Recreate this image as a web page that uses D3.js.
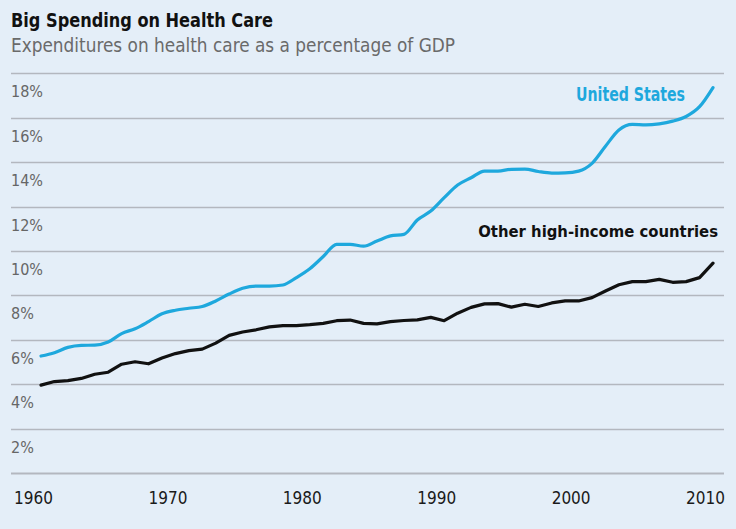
<!DOCTYPE html>
<html><head><meta charset="utf-8">
<script src="https://cdn.jsdelivr.net/npm/d3@7"></script>
<style>
html,body{margin:0;padding:0;background:#e4eef8;}
svg{display:block;}
text{font-family:"Liberation Sans Narrow","DejaVu Sans Condensed","Roboto",sans-serif;}
</style></head>
<body>
<script>
const years = d3.range(1960, 2011);
const usValues = [5.27,5.42,5.66,5.75,5.76,5.9,6.28,6.5,6.82,7.17,
  7.33,7.42,7.5,7.75,8.06,8.32,8.42,8.42,8.47,8.8,
  9.2,9.75,10.3,10.3,10.22,10.45,10.68,10.75,11.4,11.8,
  12.4,12.97,13.3,13.6,13.6,13.68,13.69,13.58,13.51,13.52,
  13.6,13.95,14.72,15.45,15.7,15.68,15.73,15.85,16.06,16.5,17.36];
const otherValues = [3.96,4.12,4.16,4.26,4.45,4.54,4.9,5.01,4.92,5.18,
  5.38,5.51,5.58,5.85,6.2,6.35,6.45,6.58,6.64,6.64,
  6.68,6.74,6.86,6.89,6.74,6.72,6.82,6.87,6.9,7.01,
  6.86,7.2,7.46,7.62,7.63,7.47,7.6,7.5,7.66,7.75,
  7.75,7.9,8.2,8.48,8.62,8.62,8.72,8.59,8.62,8.8,9.45];
const yTicks = [0,2,4,6,8,10,12,14,16,18];
const yTickLabels = ["","2%","4%","6%","8%","10%","12%","14%","16%","18%"];
const xTicks = [1960,1970,1980,1990,2000,2010];
const seriesNames = ["United States","Other high-income countries"];
const titleText = "Big Spending on Health Care";
const subtitleText = "Expenditures on health care as a percentage of GDP";

const W = 736, H = 529;
const svg = d3.select("body").append("svg").attr("width", W).attr("height", H);
svg.append("rect").attr("width", W).attr("height", H).attr("fill", "#e4eef8");

const x = d3.scaleLinear().domain([1960, 2010]).range([41, 713]);
const y = d3.scaleLinear().domain([0, 18]).range([473, 73.4]);

// gridlines
svg.append("g").selectAll("line").data(yTicks).join("line")
  .attr("x1", 11).attr("x2", 724)
  .attr("y1", d => Math.round(y(d)) + 0.5).attr("y2", d => Math.round(y(d)) + 0.5)
  .attr("stroke", "#b3b7bf").attr("stroke-width", d => d === 0 ? 2 : 1.3);

// y labels (below their gridline)
svg.append("g").selectAll("text").data(yTicks).join("text")
  .attr("x", 11).attr("y", d => y(d) + 24)
  .attr("font-size", 16).attr("fill", "#666")
  .text((d, i) => yTickLabels[i]);

// x axis labels
const xAxis = d3.axisBottom(x).tickValues(xTicks).tickFormat(d3.format("d")).tickSize(0);
const gx = svg.append("g").attr("transform", "translate(0,473)").call(xAxis);
gx.select(".domain").remove();
gx.selectAll("text").attr("font-size", 17).attr("fill", "#1a1a1a")
  .attr("font-family", "'Liberation Sans Narrow','DejaVu Sans Condensed',sans-serif")
  .attr("dx", -8).attr("y", 31).attr("dy", 0);

// lines
const lineUS = d3.line().x((d, i) => x(years[i])).y(d => y(d)).curve(d3.curveMonotoneX);
const lineOther = d3.line().x((d, i) => x(years[i])).y(d => y(d)).curve(d3.curveLinear);
svg.append("path").datum(otherValues).attr("d", lineOther)
  .attr("fill", "none").attr("stroke", "#111").attr("stroke-width", 3.2)
  .attr("stroke-linejoin", "round").attr("stroke-linecap", "round");
svg.append("path").datum(usValues).attr("d", lineUS)
  .attr("fill", "none").attr("stroke", "#1ea8dd").attr("stroke-width", 3.2)
  .attr("stroke-linejoin", "round").attr("stroke-linecap", "round");

// series labels
svg.append("text").attr("x", 685).attr("y", 101).attr("text-anchor", "end")
  .attr("font-size", 19).attr("font-weight", "bold").attr("fill", "#1ea8dd")
  .attr("textLength", 109).attr("lengthAdjust", "spacingAndGlyphs")
  .text(seriesNames[0]);
svg.append("text").attr("x", 718).attr("y", 237).attr("text-anchor", "end")
  .attr("font-size", 16.5).attr("font-weight", "bold").attr("fill", "#111")
  .text(seriesNames[1]);

// titles
svg.append("text").attr("x", 11).attr("y", 27)
  .attr("font-size", 20).attr("font-weight", "bold").attr("fill", "#111")
  .attr("textLength", 262).attr("lengthAdjust", "spacingAndGlyphs")
  .text(titleText);
svg.append("text").attr("x", 11).attr("y", 52)
  .attr("font-size", 19).attr("fill", "#6a6a6a")
  .attr("textLength", 444).attr("lengthAdjust", "spacingAndGlyphs")
  .text(subtitleText);
</script>
</body></html>
